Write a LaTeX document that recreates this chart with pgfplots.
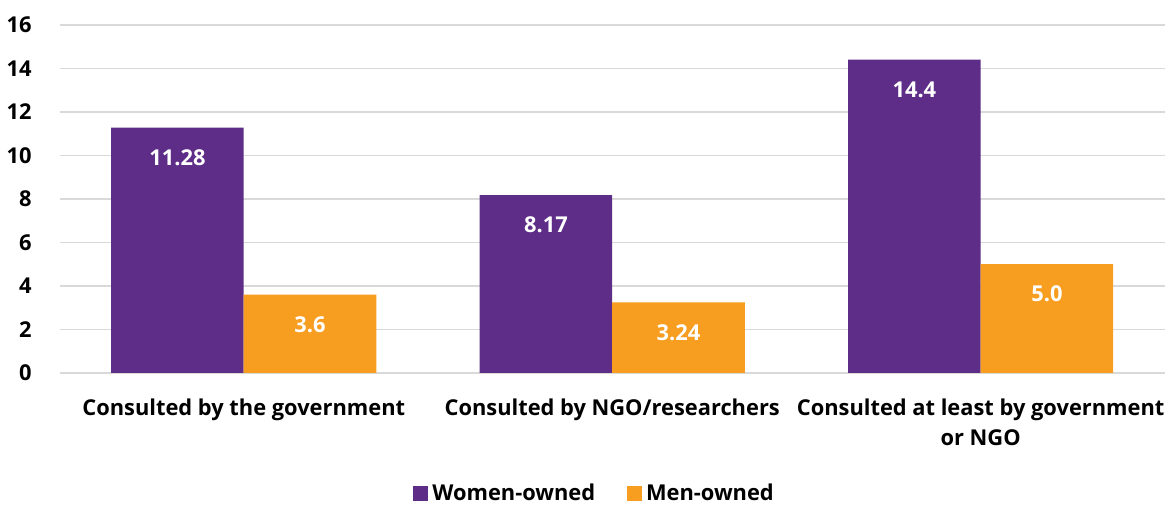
\documentclass[border=0pt]{standalone}
\usepackage{fontspec}
\setmainfont{Open Sans}
\usepackage{pgfplots}
\pgfplotsset{compat=1.18}
\definecolor{women}{RGB}{94,45,135}
\definecolor{men}{RGB}{247,157,31}
\definecolor{gridc}{RGB}{217,217,217}
\begin{document}
\begin{tikzpicture}[x=1bp,y=1bp]
\begin{axis}[
  scale only axis,
  width=554.5bp, height=174.5bp,
  ybar=0pt, bar width=66.5bp,
  xmin=-0.5, xmax=2.5,
  ymin=0, ymax=16, ytick={0,2,...,16},
  xtick={0,1,2},
  xticklabels={Consulted by the government, Consulted by NGO/researchers, {Consulted at least by government\\or NGO}},
  xticklabel style={align=center, font=\bfseries\fontsize{11}{15}\selectfont, yshift=-9.5bp},
  yticklabel style={font=\bfseries\fontsize{11}{13}\selectfont, xshift=-10.5bp},
  /pgf/number format/assume math mode=true,
  axis line style={draw=none},
  major tick length=0pt,
  ymajorgrids, grid style={gridc, line width=0.8bp},
  point meta=explicit symbolic,
  nodes near coords,
  nodes near coords style={anchor=center, yshift=-15bp, text=white, font=\bfseries\fontsize{11}{13}\selectfont},
  legend columns=2,
  legend style={draw=none, at={(0.485,-0.347)}, anchor=center, font=\bfseries\fontsize{11}{13}\selectfont,
    /tikz/every even column/.append style={column sep=14bp}},
  legend image code/.code={\fill[#1] (0bp,-3.75bp) rectangle (7.5bp,3.75bp);},
  clip=false,
]
\addplot[fill=women, draw=none] coordinates {(0,11.28) [11.28] (1,8.17) [8.17] (2,14.4) [14.4]};
\addplot[fill=men, draw=none] coordinates {(0,3.6) [3.6] (1,3.24) [3.24] (2,5.0) [5.0]};
\legend{Women-owned, Men-owned}
\path (rel axis cs:0,1) ++(0,12.5bp);
\path (rel axis cs:0,0) ++(0,-65.5bp);
\end{axis}
\end{tikzpicture}
\end{document}
